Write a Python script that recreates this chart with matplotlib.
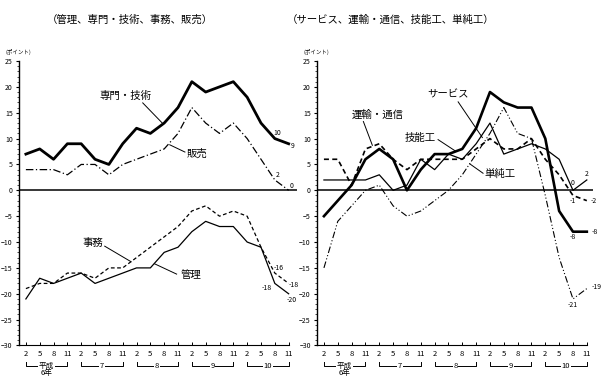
import numpy as np
import matplotlib
matplotlib.use('Agg')
from matplotlib import pyplot as plt
from matplotlib.ticker import MultipleLocator

plt.rcParams['font.family'] = ['Noto Sans CJK JP', 'DejaVu Sans']

months = ['2', '5', '8', '11'] * 5
years = ['平成', '7', '8', '9', '10']

# left panel (ポイント)
senmon = [7, 8, 6, 9, 9, 6, 5, 9, 12, 11, 13, 16, 21, 19, 20, 21, 18, 13, 10, 9]
hanbai = [4, 4, 4, 3, 5, 5, 3, 5, 6, 7, 8, 11, 16, 13, 11, 13, 10, 6, 2, 0]
jimu = [-19, -18, -18, -16, -16, -17, -15, -15, -13, -11, -9, -7, -4, -3, -5, -4, -5, -11, -16, -18]
kanri = [-21, -17, -18, -17, -16, -18, -17, -16, -15, -15, -12, -11, -8, -6, -7, -7, -10, -11, -18, -20]

# right panel
service = [-5, -2, 1, 6, 8, 6, 0, 4, 7, 7, 8, 12, 19, 17, 16, 16, 10, -4, -8, -8]
unyu = [6, 6, 1, 8, 9, 6, 4, 6, 6, 6, 6, 8, 10, 8, 8, 10, 6, 3, -1, -2]
ginou = [2, 2, 2, 2, 3, 0, 1, 6, 4, 7, 6, 9, 13, 7, 8, 9, 8, 6, 0, 2]
tanjun = [-15, -6, -3, 0, 1, -3, -5, -4, -2, 0, 3, 7, 11, 16, 11, 10, -1, -13, -21, -19]

x = np.arange(len(months))

fig = plt.figure(figsize=(6.1, 3.81), dpi=100)
ax1 = fig.add_axes([0.0311, 0.0932, 0.4557, 0.7467])
ax2 = fig.add_axes([0.5197, 0.0932, 0.4525, 0.7467])


def setup(ax, xmax):
    ax.set_xlim(-0.5, xmax)
    ax.set_ylim(-30, 25)
    for s in ['top', 'right']:
        ax.spines[s].set_visible(False)
    ax.spines['bottom'].set_bounds(-0.5, 19)
    ax.spines['left'].set_linewidth(1.0)
    ax.spines['bottom'].set_linewidth(0.8)
    ax.axhline(0, color='black', lw=1.1, zorder=1)
    ax.yaxis.set_major_locator(MultipleLocator(5))
    ax.yaxis.set_minor_locator(MultipleLocator(1))
    ax.tick_params(axis='y', which='major', direction='out', length=2.5, width=0.8,
                   labelsize=5, pad=2)
    ax.tick_params(axis='y', which='minor', direction='out', length=1.2, width=0.5)
    ax.set_xticks(x)
    ax.set_xticklabels(months)
    ax.tick_params(axis='x', direction='in', length=2.5, width=0.7, labelsize=5.5, pad=3)
    tr = ax.get_xaxis_transform()
    for g, yr in enumerate(years):
        a, b = 4 * g, 4 * g + 3
        ax.plot([a, a, b, b], [-0.058, -0.072, -0.072, -0.058], color='black', lw=0.7,
                transform=tr, clip_on=False)
        ax.text((a + b) / 2, -0.072, yr, transform=tr, ha='center', va='center',
                fontsize=5.5, bbox=dict(facecolor='white', edgecolor='none', pad=0.5))
    ax.text(1.5, -0.098, '6年', transform=tr, ha='center', va='center', fontsize=5.5)
    ax.text(-0.048, 1.02, '(ポイント)', transform=ax.transAxes, ha='left', va='bottom',
            fontsize=4)


setup(ax1, 19.6)
setup(ax2, 19.45)


def leader(ax, x0, y0, x1, y1):
    ax.plot([x0, x1], [y0, y1], color='black', lw=0.7)


# left panel lines
ax1.plot(x, senmon, color='black', lw=2.0)
ax1.plot(x, hanbai, color='black', lw=0.9, ls=(0, (6, 2, 1, 2)))
ax1.plot(x, jimu, color='black', lw=0.9, ls=(0, (3, 2)))
ax1.plot(x, kanri, color='black', lw=0.9)

ax1.text(7.2, 18.3, '専門・技術', fontsize=7.5, ha='center', va='center')
leader(ax1, 8.45, 16.9, 9.9, 12.9)
ax1.text(12.4, 7.1, '販売', fontsize=7.5, ha='center', va='center')
leader(ax1, 11.5, 7.4, 10.4, 8.8)
ax1.text(4.85, -10.2, '事務', fontsize=7.5, ha='center', va='center')
leader(ax1, 5.7, -10.8, 7.6, -13.8)
ax1.text(11.9, -16.3, '管理', fontsize=7.5, ha='center', va='center')
leader(ax1, 10.9, -16.2, 9.3, -14.2)

for tx, ty, s in [(18.2, 11, '10'), (19.3, 8.6, '9'), (18.2, 2.9, '2'), (19.2, 0.8, '0'),
                  (18.3, -15.0, '-16'), (19.4, -18.3, '-18'), (17.4, -18.8, '-18'),
                  (19.2, -21.2, '-20')]:
    ax1.text(tx, ty, s, fontsize=5, ha='center', va='center')

# right panel lines
ax2.plot(x, service, color='black', lw=1.9)
ax2.plot(x, unyu, color='black', lw=1.2, ls=(0, (3, 2)))
ax2.plot(x, ginou, color='black', lw=0.9)
ax2.plot(x, tanjun, color='black', lw=0.8, ls=(0, (6, 2, 1, 2, 1, 2)))

ax2.text(9.0, 18.5, 'サービス', fontsize=7.5, ha='center', va='center')
leader(ax2, 9.7, 17.1, 11.45, 10.2)
ax2.text(3.85, 14.6, '運輸・通信', fontsize=7.5, ha='center', va='center')
leader(ax2, 2.85, 13.3, 3.5, 8.7)
ax2.text(6.95, 10.2, '技能工', fontsize=7.5, ha='center', va='center')
leader(ax2, 8.25, 9.8, 9.5, 7.6)
ax2.text(12.75, 3.1, '単純工', fontsize=7.5, ha='center', va='center')
leader(ax2, 11.5, 3.3, 10.55, 5.1)

for tx, ty, s in [(18.0, 1.5, '0'), (19.0, 3.2, '2'), (18.0, -2.1, '-1'), (19.5, -2.1, '-2'),
                  (18.0, -9.0, '-8'), (19.6, -8.1, '-8'), (18.0, -22.1, '-21'),
                  (19.7, -18.7, '-19')]:
    ax2.text(tx, ty, s, fontsize=5, ha='center', va='center')

fig.text(0.213, 0.948, '（管理、専門・技術、事務、販売）', fontsize=7.5, ha='center', va='center')
fig.text(0.64, 0.948, '（サービス、運輸・通信、技能工、単純工）', fontsize=7.5, ha='center',
         va='center')

fig.savefig('out.png', dpi=100)
